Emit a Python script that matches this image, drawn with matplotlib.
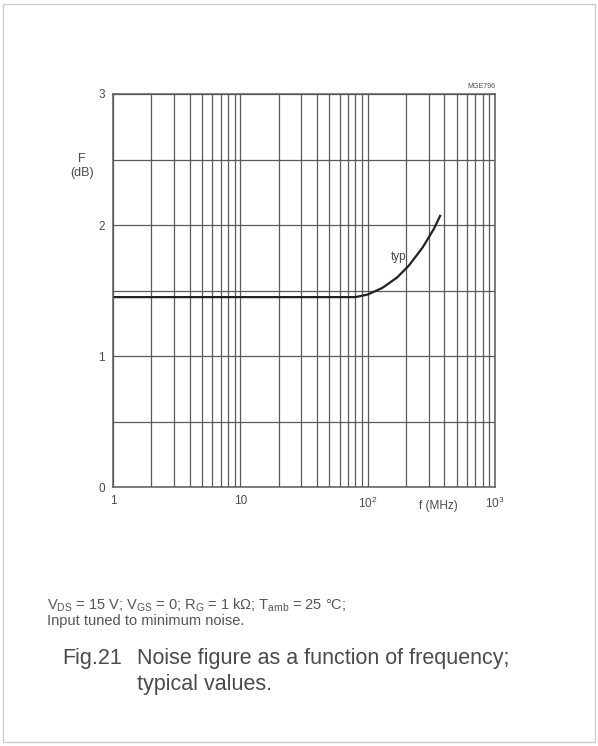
import numpy as np
import matplotlib.pyplot as plt
from matplotlib.ticker import FixedLocator, LogLocator, NullFormatter

plt.rcParams['font.family'] = ['Liberation Sans', 'DejaVu Sans']
plt.rcParams['mathtext.fontset'] = 'custom'
plt.rcParams['mathtext.rm'] = 'Liberation Sans'
plt.rcParams['mathtext.it'] = 'Liberation Sans:italic'

# data
freq_mhz = [1, 10, 50, 80, 100, 130, 170, 210, 270, 330, 370]
noise_db = [1.45, 1.45, 1.45, 1.45, 1.47, 1.52, 1.60, 1.69, 1.83, 1.97, 2.07]

x_ticks = [1, 10, 100, 1000]
x_labels = ["1", "10", "10$^2$", "10$^3$"]
y_ticks = [0, 1, 2, 3]

fig = plt.figure(figsize=(5.98, 7.46), dpi=100)
fig.patch.set_facecolor("white")

ax = fig.add_axes([0.189, 0.347, 0.639, 0.527])
ax.set_xscale("log")
ax.set_xlim(1, 1000)
ax.set_ylim(0, 3)

gc = "#5a5a5a"
tc = "#4a4a4a"
ax.xaxis.set_minor_locator(LogLocator(base=10, subs=np.arange(2, 10)))
ax.xaxis.set_minor_formatter(NullFormatter())
ax.yaxis.set_major_locator(FixedLocator(y_ticks))
ax.yaxis.set_minor_locator(FixedLocator([0.5, 1.5, 2.5]))
ax.grid(True, which="both", color=gc, lw=0.9)
ax.set_axisbelow(True)
for s in ax.spines.values():
    s.set_color(gc)
    s.set_linewidth(1.1)

ax.set_xticks(x_ticks)
ax.set_xticklabels(x_labels)
ax.tick_params(which="both", length=0, colors=tc, labelsize=8.5, pad=6)

ax.plot(freq_mhz, noise_db, color="#222222", lw=1.6)

ax.text(152, 1.73, "typ", fontsize=8.5, color=tc)
ax.text(1.0, 1.01, "MGE796", transform=ax.transAxes, ha="right", va="bottom",
        fontsize=5, color=tc)
fig.text(0.137, 0.778, "F\n(dB)", ha="center", va="center", fontsize=9,
         color=tc, linespacing=1.2)
fig.text(0.700, 0.322, "f (MHz)", ha="left", va="center", fontsize=8.5,
         color=tc)

fig.text(0.079, 0.188,
         "V$_{\\mathrm{DS}}$ = 15 V; V$_{\\mathrm{GS}}$ = 0; R$_{\\mathrm{G}}$ = 1 k$\\Omega$; "
         "T$_{\\mathrm{amb}}$ = 25 °C;",
         fontsize=10.5, color="#555555", va="center")
fig.text(0.079, 0.167, "Input tuned to minimum noise.", fontsize=10.5,
         color="#555555", va="center")
fig.text(0.104, 0.117, "Fig.21", fontsize=15.5, color=tc, va="center")
fig.text(0.229, 0.117, "Noise figure as a function of frequency;",
         fontsize=15.5, color=tc, va="center")
fig.text(0.229, 0.083, "typical values.", fontsize=15.5, color=tc,
         va="center")

# thin page border
fig.add_artist(plt.Rectangle((0.005, 0.005), 0.99, 0.99, transform=fig.transFigure,
                             fill=False, ec="#cccccc", lw=1))

fig.savefig("out.png", dpi=100, facecolor="white")
